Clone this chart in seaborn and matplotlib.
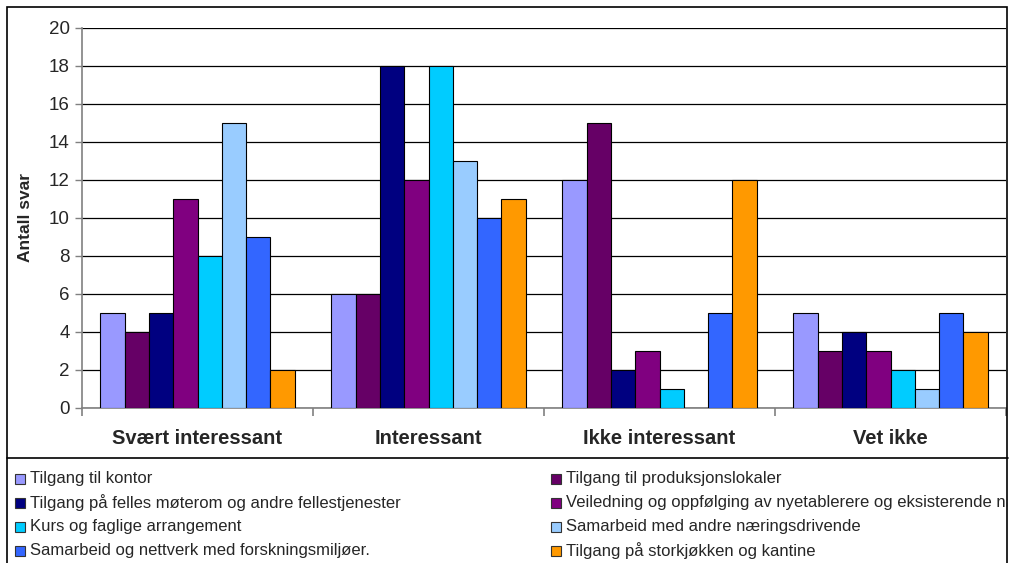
import numpy as np
import pandas as pd
import matplotlib
matplotlib.use("Agg")
import matplotlib.pyplot as plt
import seaborn as sns
from matplotlib.patches import Rectangle
from matplotlib.lines import Line2D
from matplotlib.transforms import Bbox, TransformedBbox

# --- data ---
kategorier = ["Svært interessant", "Interessant", "Ikke interessant", "Vet ikke"]
serier = [
    "Tilgang til kontor",
    "Tilgang til produksjonslokaler",
    "Tilgang på felles møterom og andre fellestjenester",
    "Veiledning og oppfølging av nyetablerere og eksisterende næringsdrivende",
    "Kurs og faglige arrangement",
    "Samarbeid med andre næringsdrivende",
    "Samarbeid og nettverk med forskningsmiljøer.",
    "Tilgang på storkjøkken og kantine",
]
svaert_interessant = [5, 4, 5, 11, 8, 15, 9, 2]
interessant = [6, 6, 18, 12, 18, 13, 10, 11]
ikke_interessant = [12, 15, 2, 3, 1, 0, 5, 12]
vet_ikke = [5, 3, 4, 3, 2, 1, 5, 4]
farger = ["#9999FF", "#660066", "#000080", "#800080",
          "#00CCFF", "#99CCFF", "#3366FF", "#FF9900"]

verdier = [svaert_interessant, interessant, ikke_interessant, vet_ikke]
rader = []
for kat, vals in zip(kategorier, verdier):
    for s, v in zip(serier, vals):
        rader.append({"kategori": kat, "serie": s, "antall": v})
df = pd.DataFrame(rader)

# --- figur ---
sns.set_style("white")
plt.rcParams["font.family"] = ["Liberation Sans", "DejaVu Sans"]

W, H = 1015, 563
fig = plt.figure(figsize=(W / 100, H / 100), dpi=100)
ax = fig.add_axes([82 / W, 1 - 408 / H, (1006 - 82) / W, (408 - 28) / H])

sns.barplot(data=df, x="kategori", y="antall", hue="serie", order=kategorier,
            hue_order=serier, palette=farger, saturation=1, width=0.84,
            edgecolor="black", linewidth=0.8, legend=False, ax=ax, zorder=3)

ax.set_xlim(-0.5, 3.5)
ax.set_ylim(0, 20)
ax.set_yticks(range(0, 21, 2))
ax.yaxis.grid(True, color="black", linewidth=0.9, zorder=0)
ax.set_axisbelow(True)
for side in ["top", "right"]:
    ax.spines[side].set_visible(False)
for side in ["left", "bottom"]:
    ax.spines[side].set_color("#808080")
    ax.spines[side].set_linewidth(1.2)

ax.tick_params(axis="y", which="major", length=5, color="#808080", width=1,
               labelsize=13.5, pad=4, left=True)
ax.set_xticks([-0.5, 0.5, 1.5, 2.5, 3.5], minor=True)
ax.tick_params(axis="x", which="minor", length=6, color="#808080", width=1.2, bottom=True)
ax.tick_params(axis="x", which="major", length=0, pad=15, labelsize=14.5)
for t in ax.get_xticklabels():
    t.set_fontweight("bold")
ax.set_xlabel("")
ax.set_ylabel("Antall svar", fontsize=12.5, fontweight="bold")
ax.yaxis.set_label_coords(-(82 - 33) / (1006 - 82), 0.5)

# ramme rundt diagrammet
fig.patches.append(Rectangle((7 / W, -0.1), (1007 - 7) / W, 1.1 - 7 / H,
                             transform=fig.transFigure, fill=False,
                             edgecolor="black", linewidth=1.2))
fig.lines.append(Line2D([7 / W, 1008 / W], [1 - 458 / H, 1 - 458 / H],
                        transform=fig.transFigure, color="black", linewidth=1.2))

# forklaring (to kolonner, radvis)
klipp = TransformedBbox(Bbox([[7 / W, 0], [1008 / W, 1 - 458 / H]]), fig.transFigure)
for i, (navn, farge) in enumerate(zip(serier, farger)):
    rad, kol = divmod(i, 2)
    x0 = 15 if kol == 0 else 551
    yc = 479 + rad * 24
    fig.patches.append(Rectangle((x0 / W, 1 - (yc + 5) / H), 10 / W, 10 / H,
                                 transform=fig.transFigure, facecolor=farge,
                                 edgecolor="#333333", linewidth=0.8))
    t = fig.text((x0 + 15) / W, 1 - yc / H, navn, fontsize=12, va="center", ha="left")
    t.set_clip_box(klipp)
    t.set_clip_on(True)

fig.savefig("out.png", dpi=100)
